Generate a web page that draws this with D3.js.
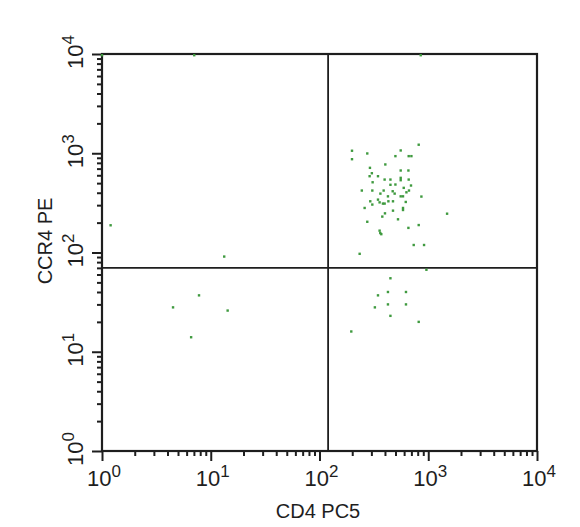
<!DOCTYPE html>
<html><head><meta charset="utf-8">
<script src="https://cdn.jsdelivr.net/npm/d3@7"></script>
<style>html,body{margin:0;padding:0;background:#fff;}svg{display:block;}</style>
</head><body>
<svg id="chart" width="580" height="527"></svg>
<script>
// Event values (CD4 PC5, CCR4 PE)
const cd4 = [199,199,275,558,817,661,700,499,403,291,303,289,345,558,657,397,449,558,558,661,308,499,694,449,595,245,306,389,665,471,491,630,363,426,558,586,865,345,357,383,397,293,306,430,474,621,260,586,586,474,400,378,527,1490,275,817,657,357,370,362,735,915,234,
  962,449,345,426,624,426,624,323,449,817,196,
  1.2,13.3,
  7.8,4.5,14.3,6.6,
  853,7.05,1];
const ccr4 = [1060,871,995,1067,1219,935,935,935,771,713,629,587,587,670,670,543,543,565,535,543,510,484,473,481,448,421,421,421,421,414,392,404,392,368,368,368,366,341,320,311,311,328,304,328,328,323,281,281,268,264,248,230,216,246,204,189,177,166,153,157,119,119,97,
  67,55,37,40,40,30,30,28,23,20,16,
  188,91,
  37,28,26,14,
  10000,10000,10000];
const majorTicks = [1,10,100,1000,10000];
const exponents = ["0","1","2","3","4"];
const xGate = 120, yGate = 70;
const xTitle = "CD4 PC5", yTitle = "CCR4 PE";

const svg = d3.select("#chart");
const L = 102, R = 537, T = 54, B = 451;
const x = d3.scaleLog().domain([1,10000]).range([L,R]);
const y = d3.scaleLog().domain([1,10000]).range([B,T]);
const font = "'Liberation Sans', Arial, Helvetica, sans-serif";
const ink = "#1e1e1e";

const minor = [];
for (let d = 1; d < 10000; d *= 10) for (let k = 2; k <= 9; k++) minor.push(k*d);

// minor ticks
const xMinor = svg.append("g").attr("transform",`translate(0,${B})`)
  .call(d3.axisBottom(x).tickValues(minor).tickSize(5).tickFormat(""));
const xMajor = svg.append("g").attr("transform",`translate(0,${B})`)
  .call(d3.axisBottom(x).tickValues(majorTicks).tickSize(10).tickFormat(""));
const yMinor = svg.append("g").attr("transform",`translate(${L},0)`)
  .call(d3.axisLeft(y).tickValues(minor).tickSize(5).tickFormat(""));
const yMajor = svg.append("g").attr("transform",`translate(${L},0)`)
  .call(d3.axisLeft(y).tickValues(majorTicks).tickSize(10).tickFormat(""));
[xMinor,xMajor,yMinor,yMajor].forEach(g=>{
  g.select(".domain").remove();
  g.selectAll(".tick line").attr("stroke",ink).attr("stroke-width",2);
});

// frame
svg.append("rect").attr("x",L).attr("y",T).attr("width",R-L).attr("height",B-T)
  .attr("fill","none").attr("stroke",ink).attr("stroke-width",2.2);

// quadrant gates
svg.append("line").attr("x1",x(xGate)).attr("x2",x(xGate)).attr("y1",T).attr("y2",B)
  .attr("stroke",ink).attr("stroke-width",1.8);
svg.append("line").attr("x1",L).attr("x2",R).attr("y1",y(yGate)).attr("y2",y(yGate))
  .attr("stroke",ink).attr("stroke-width",1.8);

// events
svg.append("g").selectAll("rect").data(cd4.map((v,i)=>[v,ccr4[i]])).join("rect")
  .attr("x",d=>x(d[0])-1.2).attr("y",d=>Math.max(T, y(d[1])-1.2))
  .attr("width",2.4).attr("height",2.4).attr("fill","#3f9a3f");

// tick labels
function expLabel(sel){
  sel.append("tspan").text("10");
  sel.append("tspan").attr("font-size",17).attr("dy",-9).text(d=>d);
}
svg.append("g").selectAll("text").data(majorTicks).join("text")
  .attr("x",d=>x(d)+2).attr("y",486).attr("text-anchor","middle")
  .attr("font-family",font).attr("font-size",22).attr("fill",ink)
  .each(function(d,i){ const t=d3.select(this).datum(exponents[i]); expLabel(t); });
svg.append("g").selectAll("text").data(majorTicks).join("text")
  .attr("transform",d=>`translate(83,${y(d)-2}) rotate(-90)`).attr("text-anchor","middle")
  .attr("font-family",font).attr("font-size",22).attr("fill",ink)
  .each(function(d,i){ const t=d3.select(this).datum(exponents[i]); expLabel(t); });

// axis titles
svg.append("text").attr("x",318).attr("y",518).attr("text-anchor","middle")
  .attr("font-family",font).attr("font-size",20).attr("fill",ink).text(xTitle);
svg.append("text").attr("transform","translate(52,241) rotate(-90)").attr("text-anchor","middle")
  .attr("font-family",font).attr("font-size",20).attr("fill",ink).text(yTitle);
</script>
</body></html>
